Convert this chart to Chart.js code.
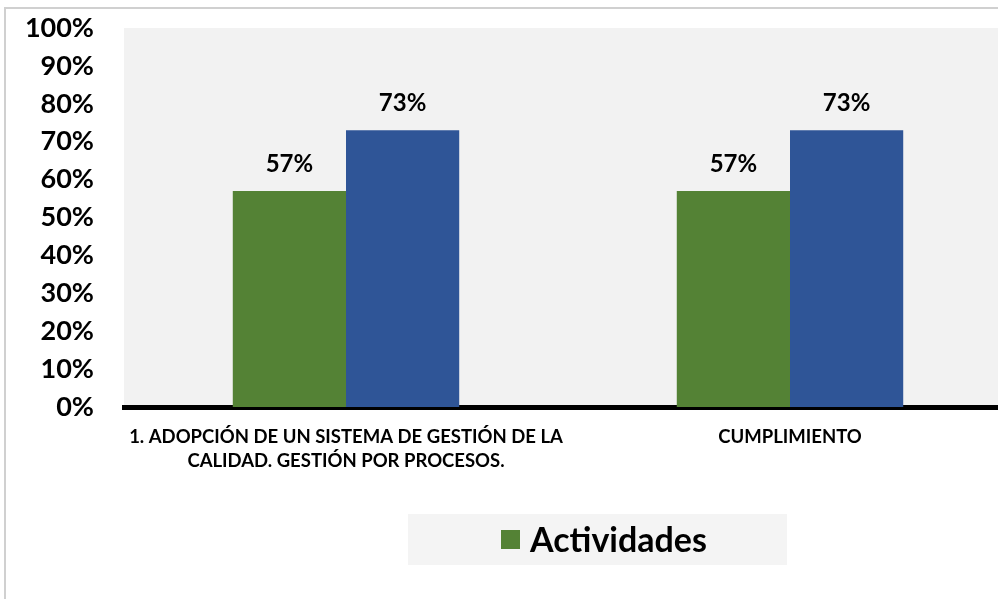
<!DOCTYPE html>
<html>
<head>
<meta charset="utf-8">
<script src="https://cdn.jsdelivr.net/npm/chart.js@4.4.1/dist/chart.umd.min.js"></script>
<style>
  html, body { margin: 0; padding: 0; background: #ffffff; overflow: hidden; width: 998px; height: 599px; }
  #frame { position: absolute; left: 4px; top: 7px; width: 1200px; height: 800px; border-left: 2px solid #d0d0d0; border-top: 2px solid #d0d0d0; }
  #wrap { position: absolute; left: 0; top: 0; width: 1012px; height: 599px; }
</style>
</head>
<body>
<div id="frame"></div>
<div id="wrap"><canvas id="c"></canvas></div>
<script>
const categories = [
  ['1. ADOPCIÓN DE UN SISTEMA DE GESTIÓN DE LA', 'CALIDAD. GESTIÓN POR PROCESOS.'],
  'CUMPLIMIENTO'
];
const seriesNames = ['Actividades', 'Avance'];
const actividades = [0.57, 0.57];
const avance = [0.73, 0.73];
const yTicks = [0, 0.1, 0.2, 0.3, 0.4, 0.5, 0.6, 0.7, 0.8, 0.9, 1.0];

const FONT = 'Lato, "Open Sans", sans-serif';

const plotBg = {
  id: 'plotBg',
  beforeDraw(chart) {
    const { ctx, chartArea: a } = chart;
    ctx.save();
    ctx.fillStyle = '#f2f2f2';
    ctx.fillRect(a.left, a.top, a.right - a.left, a.bottom - a.top);
    ctx.restore();
  }
};

const dataLabels = {
  id: 'dataLabels',
  afterDatasetsDraw(chart) {
    const { ctx } = chart;
    ctx.save();
    ctx.font = 'bold 24px ' + FONT;
    ctx.fillStyle = '#000';
    ctx.textAlign = 'center';
    ctx.textBaseline = 'middle';
    chart.data.datasets.forEach((ds, i) => {
      const meta = chart.getDatasetMeta(i);
      meta.data.forEach((el, j) => {
        ctx.fillText(Math.round(ds.data[j] * 100) + '%', el.x, el.y - 27);
      });
    });
    ctx.restore();
  }
};

const customLegend = {
  id: 'customLegend',
  afterDraw(chart) {
    const { ctx } = chart;
    ctx.save();
    ctx.fillStyle = '#f4f4f4';
    ctx.fillRect(408, 514, 379, 51);
    const ds = chart.data.datasets[0];
    ctx.fillStyle = ds.backgroundColor;
    ctx.fillRect(501, 530, 19, 19);
    ctx.font = 'bold 34px ' + FONT;
    ctx.fillStyle = '#000';
    ctx.textAlign = 'left';
    ctx.textBaseline = 'middle';
    ctx.fillText(ds.label, 530, 541);
    ctx.restore();
  }
};

new Chart(document.getElementById('c'), {
  type: 'bar',
  data: {
    labels: categories,
    datasets: [
      { label: seriesNames[0], data: actividades, backgroundColor: '#548235', categoryPercentage: 0.51, barPercentage: 1.0 },
      { label: seriesNames[1], data: avance, backgroundColor: '#2f5597', categoryPercentage: 0.51, barPercentage: 1.0 }
    ]
  },
  options: {
    responsive: true,
    maintainAspectRatio: false,
    animation: false,
    layout: { padding: { top: 28, left: 0, right: 0, bottom: 0 } },
    plugins: { legend: { display: false }, tooltip: { enabled: false } },
    scales: {
      y: {
        min: 0, max: 1,
        afterFit(s) { s.width = 124; s.paddingTop = 0; s.paddingBottom = 0; },
        afterBuildTicks(s) { s.ticks = yTicks.map(v => ({ value: v })); },
        grid: { display: false, drawTicks: false },
        border: { display: false },
        ticks: {
          padding: 30,
          color: '#000',
          font: { family: FONT, size: 27, weight: 'bold' },
          callback: v => Math.round(v * 100) + '%'
        }
      },
      x: {
        afterFit(s) { s.height = 192; },
        grid: { display: false, drawTicks: false },
        border: { display: true, color: '#000', width: 5 },
        ticks: {
          padding: 18,
          color: '#000',
          maxRotation: 0,
          font: { family: FONT, size: 18.5, weight: 'bold', lineHeight: 1.3 }
        }
      }
    }
  },
  plugins: [plotBg, dataLabels, customLegend]
});
</script>
</body>
</html>
